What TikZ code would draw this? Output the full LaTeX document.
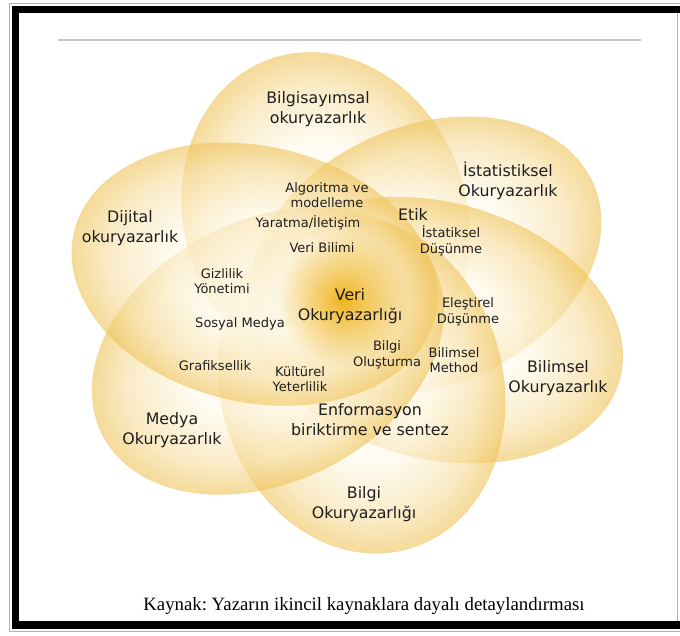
\documentclass[tikz,border=0pt]{standalone}
\usepackage{fontspec}
\setmainfont{Liberation Serif}
\newfontfamily\petalfont{DejaVu Sans}
\usetikzlibrary{fadings}
\definecolor{petalout}{RGB}{240,196,90}
\definecolor{petalin}{RGB}{255,251,238}
\definecolor{glowgold}{RGB}{240,180,30}
\definecolor{inktext}{RGB}{30,30,30}
\pgfdeclareradialshading{petal}{\pgfpoint{0bp}{0bp}}{color(0bp)=(petalin); color(11bp)=(petalin); color(20bp)=(petalout!50!petalin); color(25bp)=(petalout); color(50bp)=(petalout)}
\tikzfading[name=glowfade, inner color=transparent!0, outer color=transparent!100]

\begin{document}
\frenchspacing
\begin{tikzpicture}[
    x=1pt, y=-1pt,
    every node/.style={
        inner sep=0pt,
        align=center,
        text=inktext
    },
    big/.style={font=\petalfont\fontsize{15.8}{20}\selectfont},
    small/.style={font=\petalfont\fontsize{13}{15.5}\selectfont},
    petalshade/.style={shading=petal, fill opacity=0.62}
]
\useasboundingbox (0,0) rectangle (680,635);
\fill[white] (0,0) rectangle (680,635);

\foreach \ang/\ra in {101.6/167,32/167,-20/173,-80/170,216/171,161.6/167}
  \shade[petalshade, transform canvas={shift={(345,301)}, xscale=1.12, rotate=\ang, xshift=85pt}]
    (0,0) ellipse [x radius=\ra pt, y radius=127pt];
\fill[glowgold, path fading=glowfade] (343,300) circle (66);

\draw[gray!45, line width=1.3pt] (58,40) -- (641,40);

\node[big] (bilgisayimsal) at (318,109) {Bilgisayımsal\\okuryazarlık};
\node[big] (istatistiksel) at (508,181) {İstatistiksel\\Okuryazarlık};
\node[big] (dijital) at (130,228) {Dijital\\okuryazarlık};
\node[big] (medya) at (172,430) {Medya\\Okuryazarlık};
\node[big] (bilimsel) at (558,378) {Bilimsel\\Okuryazarlık};
\node[big] (bilgi) at (364,504) {Bilgi\\Okuryazarlığı};
\node[big] (veri) at (350,306) {Veri\\Okuryazarlığı};
\node[big] (enformasyon) at (370,420) {Enformasyon\\biriktirme ve sentez};
\node[big] (etik) at (413,214) {Etik};

\node[small] (algoritma) at (327,195) {Algoritma ve\\modelleme};
\node[small] (yaratma) at (308,223) {Yaratma/İletişim};
\node[small] (istdusunme) at (451,241) {İstatiksel\\Düşünme};
\node[small] (veribilimi) at (322,248) {Veri Bilimi};
\node[small] (gizlilik) at (222,281) {Gizlilik\\Yönetimi};
\node[small] (elestirel) at (468,312) {Eleştirel\\Düşünme};
\node[small] (sosyal) at (240,324) {Sosyal Medya};
\node[small] (olusturma) at (387,355) {Bilgi\\Oluşturma};
\node[small] (method) at (454,360) {Bilimsel\\Method};
\node[small] (grafik) at (215,366) {Grafiksellik};
\node[small] (kulturel) at (300,379) {Kültürel\\Yeterlilik};

\node[font=\fontsize{18.8}{22}\selectfont, text=black] (kaynak) at (364,606)
  {Kaynak: Yazarın ikincil kaynaklara dayalı detaylandırması};

\draw[gray!60, line width=0.8pt] (690,3) -- (9.5,3) -- (9.5,631) -- (690,631);
\draw[black, line width=7pt] (690,9.5) -- (15.5,9.5) -- (15.5,625);
\draw[black, line width=8pt] (12,625) -- (690,625);
\draw[gray!60, line width=1pt] (677,13) -- (677,621);
\end{tikzpicture}
\end{document}
